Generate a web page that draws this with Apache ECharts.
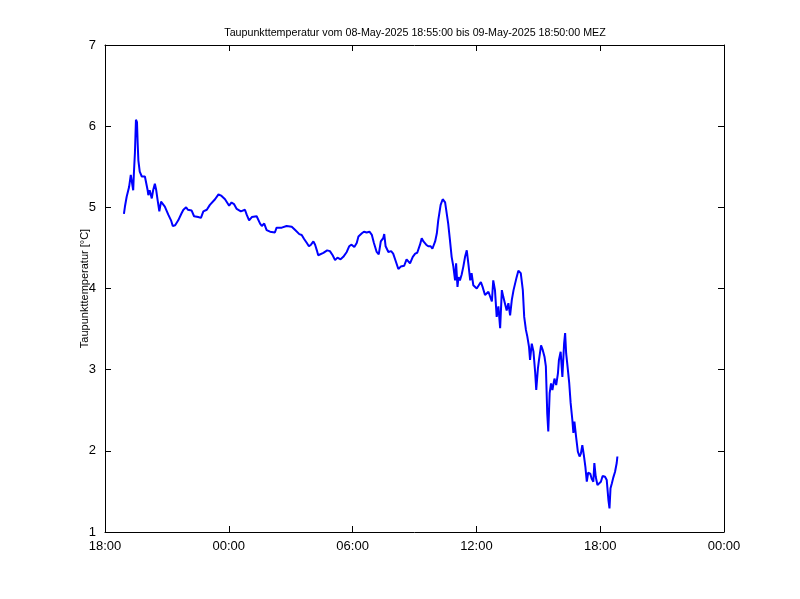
<!DOCTYPE html>
<html>
<head>
<meta charset="utf-8">
<script src="https://cdn.jsdelivr.net/npm/echarts@6/dist/echarts.min.js"></script>
<style>html,body{margin:0;padding:0;background:#fff}#c{width:800px;height:599px}</style>
</head>
<body>
<div id="c"></div>
<script>
// Clock times (08-May 18:55 ... 09-May 18:50, MEZ) and dew point values [°C]
const times = [
"18:55","18:58","19:03","19:10","19:15","19:19","19:22","19:24","19:27","19:30","19:33","19:35","19:37","19:41","19:47","19:56",
"20:01","20:04","20:06","20:10","20:16","20:20","20:25","20:29","20:33","20:38","20:43","20:48","20:54","21:04","21:12","21:17",
"21:24","21:33","21:43","21:48","21:56","22:01","22:12","22:19","22:31","22:39","22:46","22:56","23:05","23:20","23:30","23:39",
"23:49","00:01","00:08","00:15","00:23","00:35","00:47","00:52","00:59","01:07","01:21","01:31","01:36","01:43","01:50","02:00",
"02:14","02:19","02:34","02:48","03:03","03:13","03:25","03:32","03:39","03:47","03:53","03:59","04:06","04:11","04:16","04:20",
"04:25","04:35","04:46","04:54","05:02","05:09","05:16","05:25","05:33","05:43","05:50","05:57","06:05","06:12","06:17","06:27",
"06:33","06:41","06:49","06:56","07:02","07:10","07:16","07:22","07:29","07:32","07:36","07:44","07:52","07:58","08:06","08:13",
"08:20","08:30","08:37","08:42","08:47","08:55","09:02","09:08","09:16","09:21","09:26","09:34","09:40","09:47","09:52","10:00",
"10:05","10:09","10:16","10:22","10:29","10:34","10:38","10:43","10:48","10:53","10:58","11:01","11:05","11:08","11:12","11:17",
"11:22","11:27","11:32","11:37","11:42","11:46","11:51","12:01","12:06","12:13","12:18","12:25","12:35","12:40","12:45","12:49",
"12:54","12:59","13:04","13:09","13:14","13:18","13:23","13:28","13:33","13:38","13:43","13:48","13:52","13:57","14:02","14:09",
"14:15","14:19","14:24","14:28","14:33","14:36","14:41","14:46","14:51","14:54","14:59","15:02","15:08","15:13","15:18","15:22",
"15:26","15:29","15:33","15:37","15:41","15:47","15:52","15:57","16:00","16:05","16:10","16:15","16:18","16:21","16:25","16:30",
"16:34","16:39","16:42","16:45","16:50","16:55","17:00","17:04","17:08","17:13","17:17","17:21","17:25","17:31","17:35","17:40",
"17:43","17:47","17:52","17:57","18:02","18:07","18:14","18:19","18:24","18:27","18:30","18:34","18:38","18:43","18:48","18:50"
];
const dewPoint = [
4.92,5.01,5.13,5.25,5.40,5.42,5.21,5.42,5.67,6.08,6.05,5.79,5.58,5.44,5.38,5.38,
5.40,5.21,5.15,5.21,5.11,5.21,5.29,5.21,5.09,4.95,5.07,5.09,5.01,4.91,4.84,4.77,
4.78,4.84,4.93,4.97,5.00,4.97,4.96,4.89,4.88,4.87,4.95,4.97,5.03,5.10,5.16,5.14,
5.10,5.02,5.06,5.04,4.98,4.95,4.97,4.91,4.84,4.88,4.89,4.80,4.77,4.80,4.72,4.70,
4.69,4.75,4.75,4.77,4.76,4.72,4.67,4.66,4.61,4.56,4.52,4.54,4.58,4.54,4.47,4.41,
4.39,4.44,4.47,4.46,4.41,4.35,4.38,4.36,4.39,4.45,4.52,4.54,4.51,4.56,4.64,4.68,
4.70,4.69,4.70,4.66,4.56,4.45,4.42,4.58,4.62,4.67,4.52,4.45,4.46,4.43,4.33,4.24,
4.27,4.28,4.36,4.38,4.31,4.39,4.43,4.44,4.54,4.62,4.58,4.54,4.52,4.52,4.49,4.58,
4.68,4.84,5.03,5.10,5.06,5.05,4.80,4.60,4.39,4.27,4.10,4.31,4.02,4.14,4.10,4.17,
4.27,4.39,4.47,4.29,4.10,4.19,4.04,4.00,4.02,4.08,4.02,3.92,3.96,3.98,3.84,4.10,
3.98,3.65,3.78,3.51,3.98,3.90,3.92,3.73,3.82,3.67,3.86,3.98,3.96,4.14,4.22,4.19,
3.98,3.65,3.49,3.41,3.28,3.12,3.32,3.22,2.96,2.75,3.02,3.12,3.30,3.24,3.16,3.04,
2.46,2.24,2.71,2.83,2.75,2.89,2.81,2.95,3.12,3.22,2.91,3.32,3.45,3.20,3.04,2.83,
2.59,2.38,2.22,2.36,2.17,1.99,1.93,1.97,2.07,1.93,1.80,1.62,1.73,1.72,1.66,1.62,
1.85,1.68,1.58,1.56,1.62,1.69,1.68,1.64,1.39,1.29,1.54,1.60,1.67,1.74,1.85,1.93
];
const titleText = "Taupunkttemperatur vom 08-May-2025 18:55:00 bis 09-May-2025 18:50:00 MEZ";
const yLabel = "Taupunkttemperatur [°C]";
const xTickHours = [18, 0, 6, 12, 18, 0];

// hours elapsed since 08-May 18:00
const points = [];
let prev = -1, dayOffset = 0;
for (let i = 0; i < times.length; i++) {
  const [h, m] = times[i].split(':').map(Number);
  let t = h + m / 60 - 18;
  if (t < 0) t += 24;
  t += dayOffset;
  if (t < prev) { dayOffset += 24; t += 24; }
  prev = t;
  points.push([t, dewPoint[i]]);
}

const pad = n => (n < 10 ? '0' : '') + n;
const font = 'Liberation Sans, Arial, sans-serif';
const chart = echarts.init(document.getElementById('c'), null, {renderer: 'canvas'});
const axisBase = {
  axisLine: {show: true, onZero: false, lineStyle: {color: '#000', width: 1}},
  axisTick: {show: true, inside: true, length: 6, lineStyle: {color: '#000'}},
  splitLine: {show: false}
};
chart.setOption({
  animation: false,
  backgroundColor: '#fff',
  title: {
    text: titleText, left: 410, top: 23, textAlign: 'center',
    textStyle: {fontFamily: font, fontSize: 10.7, fontWeight: 'normal', color: '#000'}
  },
  grid: {left: 105, right: 76, top: 45, bottom: 67, containLabel: false},
  xAxis: [
    Object.assign({}, axisBase, {
      type: 'value', min: 0, max: 30, interval: 6, position: 'bottom',
      axisLabel: {fontFamily: font, fontSize: 13, color: '#000', margin: 8,
        formatter: v => pad(xTickHours[Math.round(v / 6)]) + ':00'}
    }),
    Object.assign({}, axisBase, {
      type: 'value', min: 0, max: 30, interval: 6, position: 'top',
      axisLabel: {show: false}
    })
  ],
  yAxis: [
    Object.assign({}, axisBase, {
      type: 'value', min: 1, max: 7, interval: 1, position: 'left',
      name: yLabel, nameLocation: 'middle', nameGap: 15, nameMoveOverlap: false,
      nameTextStyle: {fontFamily: font, fontSize: 11, color: '#000'},
      axisLabel: {fontFamily: font, fontSize: 13, color: '#000', margin: 9}
    }),
    Object.assign({}, axisBase, {
      type: 'value', min: 1, max: 7, interval: 1, position: 'right',
      axisLabel: {show: false}
    })
  ],
  series: [{
    type: 'line', data: points, xAxisIndex: 0, yAxisIndex: 0,
    showSymbol: false, symbol: 'none',
    lineStyle: {color: '#0000ff', width: 2}
  }]
});
</script>
</body>
</html>
